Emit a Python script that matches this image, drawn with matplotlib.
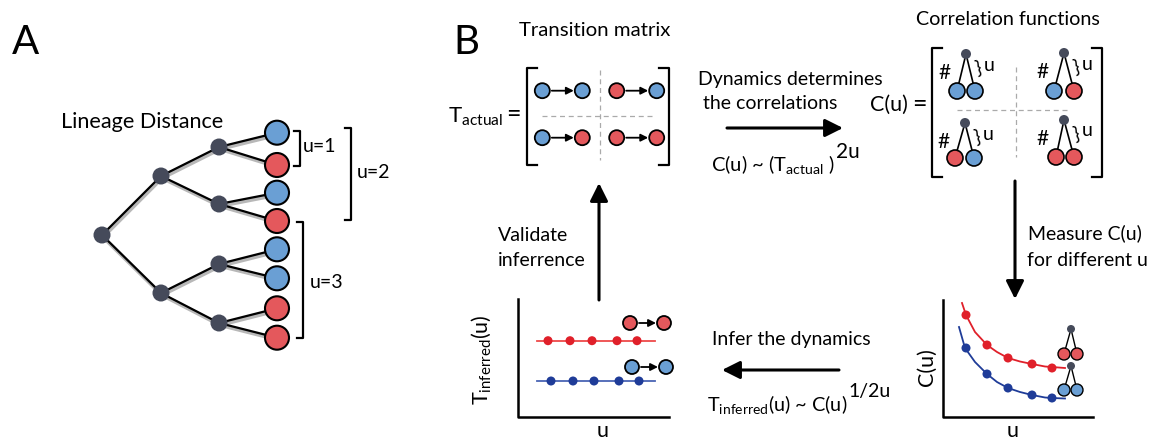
import matplotlib
matplotlib.use("Agg")
import matplotlib.pyplot as plt
from matplotlib.patches import Circle, FancyArrowPatch

plt.rcParams['font.family'] = ['Lato', 'DejaVu Sans']
plt.rcParams['mathtext.fontset'] = 'custom'
plt.rcParams['mathtext.rm'] = 'Lato'
plt.rcParams['mathtext.it'] = 'Lato:italic'

BLUE = '#6a9fd4'
RED = '#e4585c'
NODE = '#454a5a'
PRED = '#e0202a'
PBLUE = '#1f3c98'
LRED = '#ee4a4a'
LBLUE = '#4a64b4'

# panel A: lineage tree (pixel coordinates)
root = (102, 235)
level1 = [(161, 176), (161, 293)]
level2 = [(219, 147), (219, 204), (219, 264), (219, 323)]
leaf_x = 277
leaf_y = [132.7, 165, 192.7, 221, 249.3, 278.3, 308.3, 337.7]
leaf_col = ['B', 'R', 'B', 'R', 'B', 'B', 'R', 'R']

# brackets: (x of bar, top, bottom, label, label x, label y)
brackets = [(300, 131, 166, 'u=1', 303, 147),
            (351, 128, 220, 'u=2', 357, 173),
            (303, 222, 338, 'u=3', 310, 282)]

# panel B: transition matrix entries (from, to)
trans_rows = [[('B', 'B'), ('R', 'B')], [('B', 'R'), ('R', 'R')]]
# correlation matrix leaves
corr_rows = [[('B', 'B'), ('B', 'R')], [('R', 'B'), ('R', 'R')]]

# measured C(u): fitted curves and points
c_red_x = [962, 966, 975, 987, 997, 1008, 1020, 1032, 1045, 1052, 1065]
c_red_y = [303, 315, 332, 345, 352, 358, 361.5, 364, 366.5, 367, 368]
c_blue_x = [959, 965, 975, 987, 997, 1008, 1020, 1032, 1045, 1052, 1065]
c_blue_y = [327, 348, 362, 374, 382, 388, 392, 395, 397.5, 398, 398.5]
c_pts_x = [966, 987, 1008, 1032, 1052]
c_pts_red = [315, 345, 358, 364, 368]
c_pts_blue = [348, 374, 388, 395, 398]

# inferred T(u)
t_red_x = [548, 570, 592, 617, 637]
t_blue_x = [551, 573, 594, 619, 639]
t_red_y = 340.7
t_blue_y = 381

cmap = {'B': BLUE, 'R': RED}

fig = plt.figure(figsize=(11.54, 4.43), dpi=100)
ax = fig.add_axes([0, 0, 1, 1])
ax.set_xlim(0, 1154)
ax.set_ylim(443, 0)
ax.axis('off')
renderer = fig.canvas.get_renderer()


def circ(x, y, r, fc, lw=1.5, z=4):
    ax.add_patch(Circle((x, y), r, fc=fc, ec='black', lw=lw, zorder=z))


def dot(x, y, r, fc, z=4):
    ax.add_patch(Circle((x, y), r, fc=fc, ec='none', zorder=z))


def arrow(p0, p1, lw=2.2, hl=15, hw=15):
    # hl, hw in pixels
    style = '-|>,head_length=%g,head_width=%g' % (hl * 0.72, hw / 2 * 0.72)
    ax.add_patch(FancyArrowPatch(p0, p1, arrowstyle=style, mutation_scale=1,
                                 lw=lw, color='black', shrinkA=0, shrinkB=0, zorder=5))


def edge(p0, p1, lw=1.6):
    ax.plot([p0[0] + 1, p1[0] + 1], [p0[1] + 2, p1[1] + 2], color='#b8b8b8', lw=lw + 1.2, zorder=1,
            solid_capstyle='round')
    ax.plot([p0[0], p1[0]], [p0[1], p1[1]], color='black', lw=lw, zorder=2)


def with_sup(x, y, base, sup, fs, sfs, dy):
    t = ax.text(x, y, base, fontsize=fs, va='center', ha='left')
    bb = t.get_window_extent(renderer=renderer)
    xr = ax.transData.inverted().transform((bb.x1, bb.y0))[0]
    ax.text(xr + 1, y - dy, sup, fontsize=sfs, va='center', ha='left')


# ---- panel A ----
ax.text(12, 42, 'A', fontsize=29, va='center', ha='left')
ax.text(61, 122, 'Lineage Distance', fontsize=15.6, va='center', ha='left')

for p in level1:
    edge(root, p)
for i, p in enumerate(level2):
    edge(level1[i // 2], p)
for i, y in enumerate(leaf_y):
    edge(level2[i // 2], (leaf_x, y))
for p in [root] + level1 + level2:
    dot(p[0], p[1], 8.5, NODE)
for y, c in zip(leaf_y, leaf_col):
    circ(leaf_x, y, 12, cmap[c])

for xb, y0, y1, lab, lx, ly in brackets:
    ax.plot([xb - 6, xb, xb, xb - 6], [y0, y0, y1, y1], color='black', lw=1.6, zorder=2)
    ax.text(lx, ly, lab, fontsize=14, va='center', ha='left')

# ---- panel B ----
ax.text(453, 42, 'B', fontsize=29, va='center', ha='left')
ax.text(595, 30, 'Transition matrix', fontsize=14.7, va='center', ha='center')
ax.text(1008, 19, 'Correlation functions', fontsize=14.2, va='center', ha='center')

# transition matrix
ax.text(448, 117, r'T$_\mathrm{actual}$', fontsize=16, va='center', ha='left')
ax.text(513, 114, '=', fontsize=18, va='center', ha='center')


def mat_brackets(xl, xr, y0, y1):
    ax.plot([xl + 10, xl, xl, xl + 10], [y0, y0, y1, y1], color='black', lw=1.6)
    ax.plot([xr - 10, xr, xr, xr - 10], [y0, y0, y1, y1], color='black', lw=1.6)


mat_brackets(527, 669, 68, 165)
ax.plot([600, 600], [70, 160], color='#aaaaaa', lw=0.9, ls=(0, (4, 3)))
ax.plot([542, 653], [116, 116], color='#aaaaaa', lw=0.9, ls=(0, (4, 3)))


def trans(x0, x1, y, c0, c1, r=7.5):
    circ(x0, y, r, cmap[c0], lw=1.3)
    circ(x1, y, r, cmap[c1], lw=1.3)
    arrow((x0 + r + 2, y), (x1 - r - 1, y), lw=1.3, hl=6, hw=6)


row_y = [90.7, 137.7]
col_x = [(542.3, 582.3), (616.7, 656.7)]
for i, row in enumerate(trans_rows):
    for j, (a, b) in enumerate(row):
        trans(col_x[j][0], col_x[j][1], row_y[i], a, b)

# top arrow + texts
ax.text(698, 79, 'Dynamics determines', fontsize=14, va='center', ha='left')
ax.text(703, 103, 'the correlations', fontsize=14, va='center', ha='left')
arrow((727, 128), (843, 128))
with_sup(711, 164, r'C(u) ~ (T$_\mathrm{actual}$ )', '2u', 14.5, 15, 12)

# correlation matrix
ax.text(870, 105, 'C(u)', fontsize=15.5, va='center', ha='left')
ax.text(919, 104, '=', fontsize=18, va='center', ha='center')
mat_brackets(932, 1102, 48, 177)
ax.plot([1016, 1016], [67, 157], color='#aaaaaa', lw=0.9, ls=(0, (4, 3)))
ax.plot([957, 1070], [110, 110], color='#aaaaaa', lw=0.9, ls=(0, (4, 3)))


def mini_tree(xn, yn, xa, xb, yl, ca, cb, rl=8, rn=5, lw=1.2, label=True):
    ax.plot([xa, xn, xb], [yl, yn, yl], color='black', lw=lw, zorder=3)
    dot(xn, yn, rn, NODE)
    circ(xa, yl, rl, cmap[ca], lw=lw)
    circ(xb, yl, rl, cmap[cb], lw=lw)
    if label:
        ax.text(xn - 21, yn + 19, '#', fontsize=15, va='center', ha='center')
        ax.text(xn + 12, yn + 14, '}', fontsize=14, va='center', ha='center', rotation=14)
        ax.text(xn + 18, yn + 11, 'u', fontsize=14, va='center', ha='left')


corr_pos = [[(966, 54, 957, 975, 91), (1064, 53, 1054, 1074, 91)],
            [(965, 123, 955, 974, 158), (1064, 120, 1056, 1074, 157)]]
for i, row in enumerate(corr_rows):
    for j, (a, b) in enumerate(row):
        xn, yn, xa, xb, yl = corr_pos[i][j]
        mini_tree(xn, yn, xa, xb, yl, a, b)

# down arrow
arrow((1015, 181), (1015, 299))
ax.text(1028, 233, 'Measure C(u)', fontsize=14, va='center', ha='left')
ax.text(1027, 260, 'for different u', fontsize=14, va='center', ha='left')

# C(u) plot
ax.plot([943, 943, 1093], [300, 417, 417], color='black', lw=1.8)
ax.text(927, 367, 'C(u)', fontsize=15.5, va='center', ha='center', rotation=90)
ax.text(1013, 431, 'u', fontsize=15.5, va='center', ha='center')
ax.plot(c_red_x, c_red_y, color=PRED, lw=1.3)
ax.plot(c_blue_x, c_blue_y, color=PBLUE, lw=1.3)
for x, yr, yb in zip(c_pts_x, c_pts_red, c_pts_blue):
    dot(x, yr, 4.5, PRED)
    dot(x, yb, 4.5, PBLUE)
mini_tree(1071, 329, 1064, 1077, 354, 'R', 'R', rl=6, rn=4, lw=1.0, label=False)
mini_tree(1071, 366, 1064, 1077, 390, 'B', 'B', rl=6, rn=4, lw=1.0, label=False)

# bottom arrow + texts
ax.text(712, 340, 'Infer the dynamics', fontsize=14, va='center', ha='left')
arrow((839, 370), (722, 370))
with_sup(707, 404, r'T$_\mathrm{inferred}$(u) ~ C(u)', '1/2u', 14.3, 14, 12)

# T_inferred plot
ax.plot([518, 518, 669], [299, 417, 417], color='black', lw=1.8)
ax.text(481, 360, r'T$_\mathrm{inferred}$(u)', fontsize=15.5, va='center', ha='center', rotation=90)
ax.text(603, 431, 'u', fontsize=15.5, va='center', ha='center')
ax.plot([537, 655], [t_red_y, t_red_y], color=LRED, lw=1.3)
ax.plot([537, 655], [t_blue_y, t_blue_y], color=LBLUE, lw=1.3)
for x in t_red_x:
    dot(x, t_red_y, 4.5, PRED)
for x in t_blue_x:
    dot(x, t_blue_y, 4.5, PBLUE)
trans(630, 664, 323, 'R', 'R', r=7)
trans(632, 666, 367, 'B', 'B', r=7)

# up arrow
arrow((599, 300), (599, 183))
ax.text(498, 235, 'Validate', fontsize=14, va='center', ha='left')
ax.text(498, 260, 'inferrence', fontsize=14, va='center', ha='left')

fig.savefig('out.png', dpi=100)
